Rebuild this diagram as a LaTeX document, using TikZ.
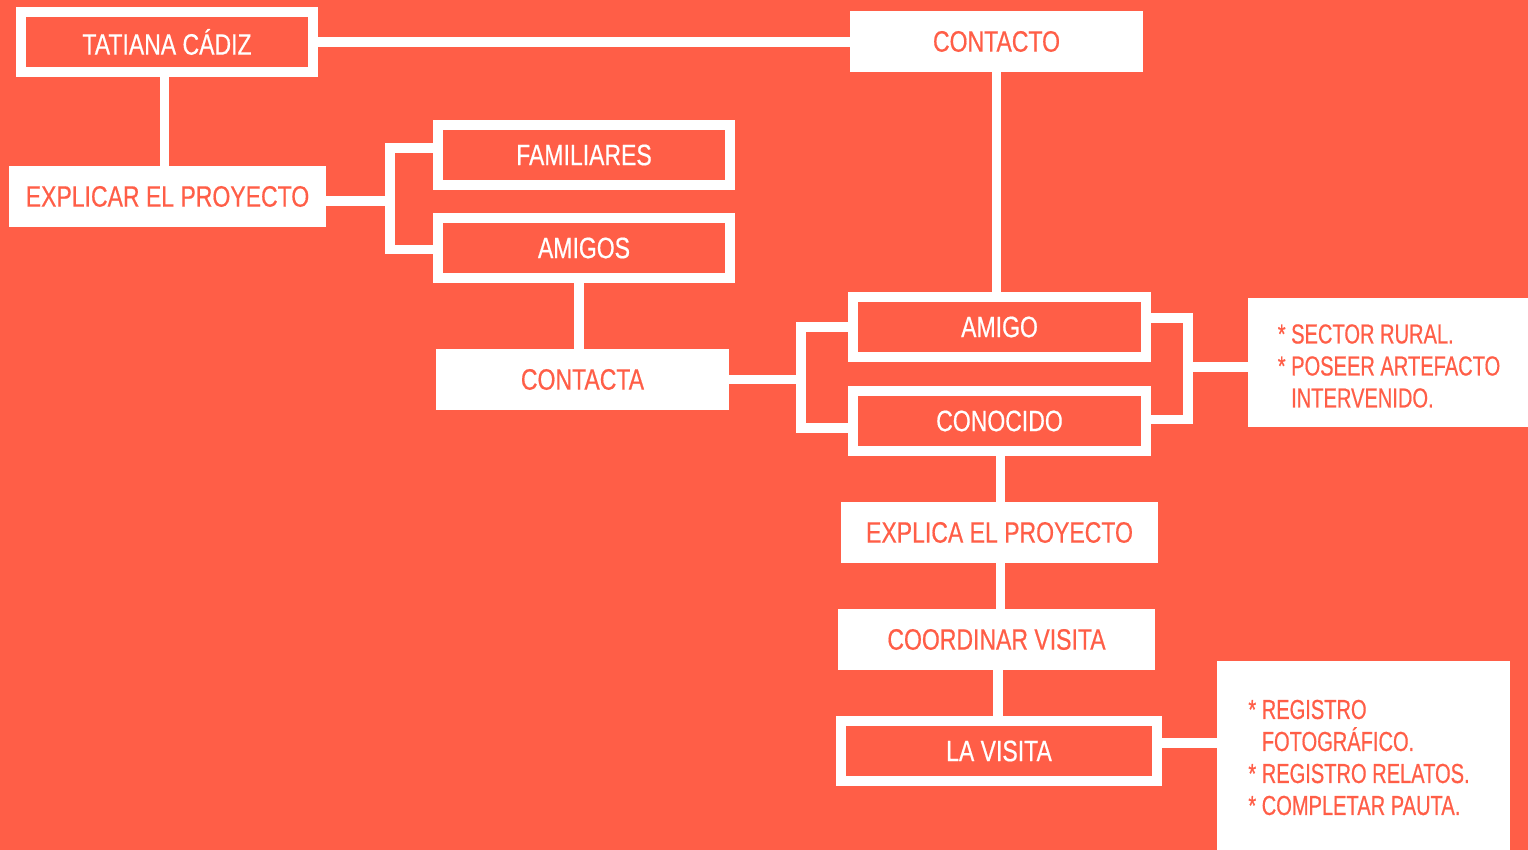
\documentclass[tikz,border=0pt]{standalone}
\usepackage{fontspec}
\newfontfamily\cond{Liberation Sans}[FakeStretch=0.78,FakeBold=0.5]
\newfontfamily\condlist{Liberation Sans}[FakeStretch=0.73,FakeBold=0.5]
\definecolor{bg}{RGB}{255,94,71}
\begin{document}
\begin{tikzpicture}[x=1pt,y=-1pt,
  every node/.style={font=\cond\fontsize{29.5}{32}\selectfont},
  outl/.style={draw=white, line width=10pt, fill=bg, text=white, inner sep=0pt},
  solid/.style={fill=white, text=bg, inner sep=0pt, draw=none},
  listbox/.style={solid, align=left, font=\condlist\fontsize{27.5}{32}\selectfont},
  conn/.style={draw=white, line width=9.5pt, line join=miter},
]
\fill[bg] (0,0) rectangle (1528,850);
\useasboundingbox (0,0) rectangle (1528,850);

\node[outl, minimum width=292pt, minimum height=60pt] (tat) at (167,42) {TATIANA CÁDIZ};
\node[solid, minimum width=293pt, minimum height=61pt] (contacto) at (996.5,41.5) {CONTACTO};
\node[solid, minimum width=317pt, minimum height=61pt] (expl) at (167.5,196.5) {EXPLICAR EL PROYECTO};
\node[outl, minimum width=292pt, minimum height=60pt] (fam) at (584,155) {FAMILIARES};
\node[outl, minimum width=292pt, minimum height=60pt] (amigos) at (584,248) {AMIGOS};
\node[solid, minimum width=293pt, minimum height=61pt] (contacta) at (582.5,379.5) {CONTACTA};
\node[outl, minimum width=293pt, minimum height=60pt] (amigo) at (999.5,327) {AMIGO};
\node[outl, minimum width=293pt, minimum height=60pt] (conocido) at (999.5,421) {CONOCIDO};
\node[listbox, minimum width=280pt, minimum height=129pt] (sector) at (1388,362.5) {};
\node[listbox, anchor=center] (sectortxt) at (1389,366)
  {* SECTOR RURAL.\\* POSEER ARTEFACTO\\\hphantom{* }INTERVENIDO.};
\node[solid, minimum width=317pt, minimum height=61pt] (explica) at (999.5,532.5) {EXPLICA EL PROYECTO};
\node[solid, minimum width=317pt, minimum height=61pt] (coord) at (996.5,639.5) {COORDINAR VISITA};
\node[outl, minimum width=316pt, minimum height=60pt] (visita) at (999,751) {LA VISITA};
\node[listbox, minimum width=293pt, minimum height=189pt] (reg) at (1363.5,755.5) {};
\node[listbox] (regtxt) at (1359,757.5)
  {* REGISTRO\\\hphantom{* }FOTOGRÁFICO.\\* REGISTRO RELATOS.\\* COMPLETAR PAUTA.};

% connectors
\draw[conn] (tat.east) -- (contacto.west |- tat.east);
\draw[conn] ([xshift=-2.5pt]tat.south) -- ([xshift=-2.5pt]tat.south |- expl.north);
\draw[conn] (contacto.south) -- (contacto.south |- amigo.north);
\coordinate (b1) at (390,201);
\draw[conn] ([yshift=-4.5pt]expl.east) -- (b1);
\draw[conn] ([yshift=7pt]fam.west) -| (b1) |- ([yshift=-1.5pt]amigos.west);
\draw[conn] ([xshift=-5pt]amigos.south) -- ([xshift=-5pt]amigos.south |- contacta.north);
\coordinate (b2) at (801,379.5);
\draw[conn] (contacta.east) -- (b2);
\draw[conn] (amigo.west) -| (b2) |- ([yshift=-7pt]conocido.west);
\coordinate (b3) at (1188,367);
\draw[conn] ([yshift=9pt]amigo.east) -| (b3) |- ([yshift=1.5pt]conocido.east);
\draw[conn] (b3) -- (sector.west |- b3);
\draw[conn] ([xshift=1pt]conocido.south) -- ([xshift=1pt]conocido.south |- explica.north);
\draw[conn] ([xshift=1pt]explica.south) -- ([xshift=1pt]explica.south |- coord.north);
\draw[conn] ([xshift=1.5pt]coord.south) -- ([xshift=1.5pt]coord.south |- visita.north);
\coordinate (v1) at ([yshift=8pt]visita.east);
\draw[conn] (v1) -- (reg.west |- v1);
\end{tikzpicture}
\end{document}
